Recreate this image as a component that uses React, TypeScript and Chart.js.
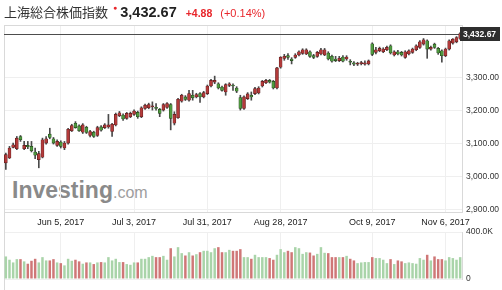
import React, { useEffect, useRef } from 'react';
import { Chart, registerables } from 'chart.js';
Chart.register(...registerables);

const categories = [
  'May 11, 2017','May 12, 2017','May 15, 2017','May 16, 2017','May 17, 2017','May 18, 2017','May 19, 2017','May 22, 2017','May 23, 2017','May 24, 2017','May 25, 2017','May 26, 2017','May 31, 2017',
  'Jun 1, 2017','Jun 2, 2017','Jun 5, 2017','Jun 6, 2017','Jun 7, 2017','Jun 8, 2017','Jun 9, 2017','Jun 12, 2017','Jun 13, 2017','Jun 14, 2017','Jun 15, 2017','Jun 16, 2017','Jun 19, 2017','Jun 20, 2017','Jun 21, 2017','Jun 22, 2017','Jun 23, 2017','Jun 26, 2017','Jun 27, 2017','Jun 28, 2017','Jun 29, 2017','Jun 30, 2017',
  'Jul 3, 2017','Jul 4, 2017','Jul 5, 2017','Jul 6, 2017','Jul 7, 2017','Jul 10, 2017','Jul 11, 2017','Jul 12, 2017','Jul 13, 2017','Jul 14, 2017','Jul 17, 2017','Jul 18, 2017','Jul 19, 2017','Jul 20, 2017','Jul 21, 2017','Jul 24, 2017','Jul 25, 2017','Jul 26, 2017','Jul 27, 2017','Jul 28, 2017','Jul 31, 2017',
  'Aug 1, 2017','Aug 2, 2017','Aug 3, 2017','Aug 4, 2017','Aug 7, 2017','Aug 8, 2017','Aug 9, 2017','Aug 10, 2017','Aug 11, 2017','Aug 14, 2017','Aug 15, 2017','Aug 16, 2017','Aug 17, 2017','Aug 18, 2017','Aug 21, 2017','Aug 22, 2017','Aug 23, 2017','Aug 24, 2017','Aug 25, 2017','Aug 28, 2017','Aug 29, 2017','Aug 30, 2017','Aug 31, 2017',
  'Sep 1, 2017','Sep 4, 2017','Sep 5, 2017','Sep 6, 2017','Sep 7, 2017','Sep 8, 2017','Sep 11, 2017','Sep 12, 2017','Sep 13, 2017','Sep 14, 2017','Sep 15, 2017','Sep 18, 2017','Sep 19, 2017','Sep 20, 2017','Sep 21, 2017','Sep 22, 2017','Sep 25, 2017','Sep 26, 2017','Sep 27, 2017','Sep 28, 2017','Sep 29, 2017',
  'Oct 9, 2017','Oct 10, 2017','Oct 11, 2017','Oct 12, 2017','Oct 13, 2017','Oct 16, 2017','Oct 17, 2017','Oct 18, 2017','Oct 19, 2017','Oct 20, 2017','Oct 23, 2017','Oct 24, 2017','Oct 25, 2017','Oct 26, 2017','Oct 27, 2017','Oct 30, 2017','Oct 31, 2017',
  'Nov 1, 2017','Nov 2, 2017','Nov 3, 2017','Nov 6, 2017','Nov 7, 2017','Nov 8, 2017','Nov 9, 2017','Nov 10, 2017',
];

const tickLabels = ['Jun 5, 2017', 'Jul 3, 2017', 'Jul 31, 2017', 'Aug 28, 2017', 'Oct 9, 2017', 'Nov 6, 2017'];

const opens = [
  3041,3056,3088,3084,3121,3084,3094,3091,3074,3051,
  3058,3101,3128,3114,3094,3104,3086,3101,3138,3161,
  3153,3134,3149,3124,3134,3124,3150,3148,3150,3136,
  3156,3184,3186,3176,3181,3188,3194,3181,3206,3208,
  3211,3207,3203,3201,3209,3218,3161,3178,3228,3241,
  3231,3246,3241,3251,3241,3251,3274,3286,3281,3271,
  3256,3276,3276,3268,3239,3206,3236,3246,3251,3253,
  3274,3284,3291,3288,3268,3331,3358,3366,3356,3361,
  3368,3373,3371,3378,3366,3364,3371,3368,3374,3364,
  3356,3351,3362,3356,3348,3344,3340,3342,3340,3341,
  3402,3376,3381,3378,3384,3396,3368,3378,3376,3361,
  3371,3376,3384,3391,3401,3411,3386,3401,3388,3381,
  3366,3386,3404,3408,3418,
];
const highs = [
  3071,3091,3101,3121,3124,3106,3106,3106,3086,3076,
  3116,3121,3146,3118,3111,3108,3106,3146,3158,3166,
  3156,3160,3152,3140,3137,3152,3154,3160,3188,3161,
  3192,3197,3190,3194,3195,3202,3198,3211,3219,3222,
  3226,3221,3206,3221,3224,3221,3196,3237,3249,3245,
  3261,3261,3252,3254,3258,3277,3294,3304,3284,3274,
  3281,3284,3281,3272,3246,3244,3254,3256,3270,3272,
  3291,3294,3294,3291,3331,3363,3370,3372,3360,3372,
  3381,3387,3387,3381,3370,3379,3388,3388,3378,3368,
  3364,3364,3366,3366,3354,3348,3346,3349,3350,3353,
  3405,3391,3392,3390,3395,3399,3381,3382,3379,3381,
  3384,3389,3399,3412,3418,3414,3395,3404,3391,3384,
  3389,3414,3418,3424,3436,
];
const lows = [
  3021,3054,3086,3081,3106,3081,3084,3074,3054,3026,
  3056,3098,3114,3098,3091,3086,3081,3098,3136,3146,
  3136,3130,3130,3120,3118,3121,3137,3145,3146,3121,
  3153,3181,3170,3173,3178,3185,3176,3178,3203,3205,
  3201,3201,3181,3198,3206,3141,3156,3176,3225,3230,
  3228,3231,3238,3224,3238,3248,3271,3281,3265,3258,
  3246,3272,3261,3254,3201,3203,3233,3231,3248,3250,
  3271,3281,3283,3265,3265,3328,3352,3355,3341,3358,
  3365,3370,3369,3361,3357,3361,3368,3366,3353,3346,
  3348,3348,3347,3352,3338,3336,3336,3338,3337,3338,
  3366,3371,3378,3375,3381,3371,3365,3368,3365,3358,
  3368,3373,3381,3388,3398,3358,3383,3388,3370,3346,
  3363,3383,3401,3405,3415,
];
const closes = [
  3066,3086,3096,3116,3111,3094,3090,3078,3064,3069,
  3111,3114,3118,3101,3106,3091,3101,3143,3154,3148,
  3138,3156,3133,3136,3121,3148,3140,3156,3156,3158,
  3188,3193,3174,3191,3191,3198,3181,3208,3216,3218,
  3212,3206,3191,3218,3221,3176,3188,3234,3246,3233,
  3251,3238,3248,3241,3254,3274,3291,3291,3268,3261,
  3278,3281,3274,3258,3206,3241,3250,3241,3266,3268,
  3288,3291,3286,3268,3329,3361,3364,3361,3351,3368,
  3378,3384,3384,3364,3361,3376,3384,3384,3356,3349,
  3351,3358,3349,3362,3346,3340,3342,3345,3344,3350,
  3370,3384,3388,3386,3391,3374,3378,3371,3368,3378,
  3381,3386,3396,3408,3414,3386,3391,3391,3374,3366,
  3386,3411,3416,3421,3432.67,
];
const volumesK = [
  192,164,141,169,169,150,130,155,172,141,
  186,158,158,169,141,135,116,172,155,164,
  150,130,141,141,127,141,144,141,186,158,
  172,144,144,127,121,141,141,172,172,186,
  197,186,186,197,164,262,192,271,220,200,
  228,200,211,228,240,240,228,262,271,228,
  228,248,240,240,254,186,186,172,206,186,
  186,186,178,164,206,254,228,240,228,271,
  262,214,228,225,200,214,271,223,220,186,
  186,186,186,197,172,158,135,141,144,144,
  186,178,178,164,135,169,127,158,150,135,
  141,135,130,178,164,206,158,192,169,169,
  158,186,178,164,186,
];

const lastPrice = 3432.67;
const priceTicks = [2900, 3000, 3100, 3200, 3300];
const volumeTicks = [0, 400];

const FONT = "'Liberation Sans', Arial, sans-serif";
const UP = '#b33a3a';
const DOWN = '#4f9a3f';
const VOL_UP = '#a9d4a9';
const VOL_DOWN = '#cf7777';
const GRID = '#efefef';
const FRAME = '#d9d9d9';

function fmt2(v: number): string {
  const [i, d] = v.toFixed(2).split('.');
  return i.replace(/\B(?=(\d{3})+(?!\d))/g, ',') + '.' + d;
}

const isTick = (i: number) => tickLabels.includes(categories[i]);

const framePlugin = {
  id: 'frame',
  beforeDatasetsDraw(chart: any) {
    const { ctx, chartArea } = chart;
    ctx.save();
    ctx.strokeStyle = FRAME;
    ctx.lineWidth = 1;
    ctx.beginPath();
    ctx.moveTo(Math.round(chartArea.left) + 0.5, chartArea.top);
    ctx.lineTo(Math.round(chartArea.left) + 0.5, chart.height);
    ctx.stroke();
    ctx.restore();
  },
};

const topLinePlugin = {
  id: 'topline',
  beforeDatasetsDraw(chart: any) {
    const { ctx, chartArea } = chart;
    ctx.save();
    ctx.strokeStyle = FRAME;
    ctx.lineWidth = 1;
    ctx.beginPath();
    ctx.moveTo(chartArea.left, Math.round(chartArea.top) + 0.5);
    ctx.lineTo(chartArea.right, Math.round(chartArea.top) + 0.5);
    ctx.stroke();
    ctx.restore();
  },
};

const priceLinePlugin = {
  id: 'priceline',
  beforeDatasetsDraw(chart: any) {
    const { ctx, chartArea, scales } = chart;
    const py = Math.round(scales.y.getPixelForValue(lastPrice)) + 0.5;
    ctx.save();
    ctx.strokeStyle = '#4d4d4d';
    ctx.lineWidth = 1;
    ctx.beginPath();
    ctx.moveTo(chartArea.left, py);
    ctx.lineTo(chartArea.right, py);
    ctx.stroke();
    ctx.restore();
  },
  afterDatasetsDraw(chart: any) {
    const { ctx, chartArea, scales } = chart;
    const py = Math.round(scales.y.getPixelForValue(lastPrice));
    ctx.save();
    ctx.fillStyle = '#2e2e2e';
    ctx.fillRect(chartArea.right - 2, py - 7, 40, 14);
    ctx.fillStyle = '#ffffff';
    ctx.font = `bold 8.5px ${FONT}`;
    ctx.textBaseline = 'middle';
    ctx.textAlign = 'left';
    ctx.fillText(fmt2(lastPrice), chartArea.right + 1, py + 0.5);
    ctx.restore();
  },
};

export default function App() {
  const priceRef = useRef<HTMLCanvasElement>(null);
  const volRef = useRef<HTMLCanvasElement>(null);

  useEffect(() => {
    const up = closes.map((c, i) => c >= opens[i]);
    const priceChart = new Chart(priceRef.current!, {
      type: 'bar',
      data: {
        labels: categories,
        datasets: [
          {
            label: 'body',
            data: categories.map((_, i) => [opens[i], closes[i]]) as any,
            backgroundColor: up.map((u) => (u ? UP : DOWN)),
            borderColor: up.map((u) => (u ? '#5a1c1c' : '#24461c')),
            borderWidth: 0.6,
            borderSkipped: false,
            barThickness: 3,
            minBarLength: 1,
            grouped: false,
            order: 1,
          } as any,
          {
            label: 'wick',
            data: categories.map((_, i) => [lows[i], highs[i]]) as any,
            backgroundColor: '#4a4a4a',
            barThickness: 1,
            grouped: false,
            order: 2,
          } as any,
        ],
      },
      options: {
        responsive: false,
        animation: false,
        devicePixelRatio: 1,
        layout: { padding: { left: 4, top: 25, right: 0, bottom: 0 } },
        plugins: { legend: { display: false }, tooltip: { enabled: false } },
        scales: {
          x: {
            grid: {
              offset: false,
              drawTicks: false,
              color: (ctx: any) => (isTick(ctx.index) ? GRID : 'rgba(0,0,0,0)'),
            },
            border: { color: FRAME },
            ticks: {
              autoSkip: false,
              maxRotation: 0,
              padding: 5,
              color: '#222',
              font: { size: 9, family: FONT },
              callback: (_v: any, i: number) => (isTick(i) ? categories[i] : ''),
            },
            afterFit: (s: any) => {
              s.height = 20;
            },
          } as any,
          y: {
            position: 'right',
            min: 2892,
            max: 3459,
            afterBuildTicks: (s: any) => {
              s.ticks = priceTicks.map((v) => ({ value: v }));
            },
            grid: { color: GRID, drawTicks: false },
            border: { color: FRAME },
            ticks: {
              padding: 4,
              color: '#333',
              font: { size: 8.5, family: FONT },
              callback: (v: any) => fmt2(Number(v)),
            },
            afterFit: (s: any) => {
              s.width = 40;
            },
          } as any,
        },
      },
      plugins: [framePlugin, topLinePlugin, priceLinePlugin],
    });

    const volChart = new Chart(volRef.current!, {
      type: 'bar',
      data: {
        labels: categories,
        datasets: [
          {
            label: 'volume',
            data: volumesK,
            backgroundColor: up.map((u) => (u ? VOL_UP : VOL_DOWN)),
            barPercentage: 0.68,
            categoryPercentage: 1,
          },
        ],
      },
      options: {
        responsive: false,
        animation: false,
        devicePixelRatio: 1,
        layout: { padding: { left: 4, top: 12, right: 0, bottom: 11 } },
        plugins: { legend: { display: false }, tooltip: { enabled: false } },
        scales: {
          x: {
            grid: {
              offset: false,
              drawTicks: false,
              color: (ctx: any) => (isTick(ctx.index) ? GRID : 'rgba(0,0,0,0)'),
            },
            border: { display: false },
            ticks: { display: false },
            afterFit: (s: any) => {
              s.height = 0;
            },
          } as any,
          y: {
            position: 'right',
            min: 0,
            max: 400,
            afterBuildTicks: (s: any) => {
              s.ticks = volumeTicks.map((v) => ({ value: v }));
            },
            grid: { color: GRID, drawTicks: false },
            border: { color: FRAME },
            ticks: {
              padding: 4,
              color: '#333',
              font: { size: 8.5, family: FONT },
              callback: (v: any) => (Number(v) === 0 ? '0' : `${Number(v).toFixed(1)}K`),
            },
            afterFit: (s: any) => {
              s.width = 40;
            },
          } as any,
        },
      },
      plugins: [framePlugin],
    });

    return () => {
      priceChart.destroy();
      volChart.destroy();
    };
  }, []);

  return (
    <div
      style={{
        position: 'absolute',
        left: 0,
        top: 0,
        width: 502,
        height: 290,
        overflow: 'hidden',
        background: '#fff',
        fontFamily: FONT,
      }}
    >
      <div
        style={{
          position: 'absolute',
          left: 12,
          top: 179,
          whiteSpace: 'nowrap',
          lineHeight: '23px',
        }}
      >
        <span style={{ fontSize: 23, fontWeight: 'bold', color: '#8a8a8a' }}>Investing</span>
        <span style={{ fontSize: 16, color: '#9d9d9d' }}>.com</span>
      </div>
      <canvas ref={priceRef} width={502} height={232} style={{ position: 'absolute', left: 0, top: 0 }} />
      <canvas ref={volRef} width={502} height={70} style={{ position: 'absolute', left: 0, top: 220 }} />
      <div
        style={{
          position: 'absolute',
          left: 4,
          top: 3,
          whiteSpace: 'nowrap',
          display: 'flex',
          alignItems: 'baseline',
          lineHeight: '18px',
          fontFamily: `${FONT}, 'Noto Sans CJK JP'`,
        }}
      >
        <span style={{ fontSize: 13, color: '#333', fontFamily: "'Noto Sans CJK JP', sans-serif" }}>上海総合株価指数</span>
        <span style={{ fontSize: 7, color: '#e8262b', position: 'relative', top: -7, marginLeft: 5 }}>●</span>
        <span style={{ fontSize: 14.5, fontWeight: 'bold', color: '#222', marginLeft: 3 }}>3,432.67</span>
        <span style={{ fontSize: 10.5, fontWeight: 'bold', color: '#e8262b', marginLeft: 9 }}>+4.88</span>
        <span style={{ fontSize: 11, color: '#e8262b', marginLeft: 8 }}>(+0.14%)</span>
      </div>
    </div>
  );
}
